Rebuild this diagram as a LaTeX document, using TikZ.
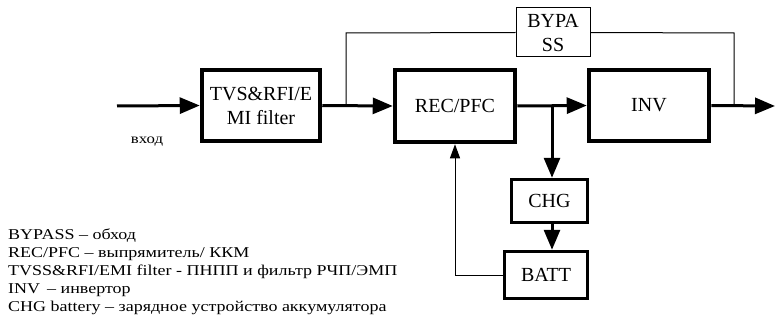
\documentclass[tikz,border=0pt]{standalone}
\usepackage{fontspec}
\setmainfont{Liberation Serif}
\newfontfamily\legfont[FakeStretch=1.2]{Liberation Serif}
\usetikzlibrary{arrows.meta}
\begin{document}
\begin{tikzpicture}[x=1pt,y=-1pt,
  bigbox/.style={draw,line width=4.5pt,rectangle,inner sep=0pt,align=center,font=\fontsize{20}{24}\selectfont},
  midbox/.style={draw,line width=3.5pt,rectangle,inner sep=0pt,align=center,font=\fontsize{20}{24}\selectfont},
  thinbox/.style={draw,line width=1pt,rectangle,inner sep=0pt,align=center,font=\fontsize{20}{24}\selectfont},
  mainline/.style={line width=3pt},
  mainarrow/.style={line width=3pt,-{Triangle[length=20pt,width=16pt]}},
  thinline/.style={line width=1pt},
  thinarrow/.style={line width=1pt,-{Triangle[length=14pt,width=10pt]}},
  legend/.style={anchor=base west,inner sep=0pt,font=\legfont\fontsize{15}{18}\selectfont}]
\useasboundingbox (0,0) rectangle (775,326);
\node[bigbox,minimum width=118pt,minimum height=71pt] (tvs) at (261,105.5) {TVS\&RFI/E\\MI filter};
\node[bigbox,minimum width=120pt,minimum height=72pt] (rec) at (455,106) {REC/PFC};
\node[bigbox,minimum width=120pt,minimum height=71pt] (inv) at (649,105.5) {INV};
\node[thinbox,minimum width=74pt,minimum height=49pt] (byp) at (553,32.5) {BYPA\\SS};
\node[midbox,minimum width=76pt,minimum height=43pt] (chg) at (549.5,201) {CHG};
\node[midbox,minimum width=83pt,minimum height=47pt] (batt) at (546,275) {BATT};
\node[inner sep=0pt,anchor=base,font=\legfont\fontsize{14}{16}\selectfont] (vhod) at (147,143) {вход};
\coordinate (in) at (117,106);
\coordinate (out) at (775,106);
\coordinate (b1) at (346,106);
\coordinate (b1t) at (346,33);
\coordinate (b2) at (734,33);
\coordinate (b2b) at (734,106);
\coordinate (c1) at (552,106);
\coordinate (fb) at (455,275);
\draw[mainarrow] (in) -- (tvs.west);
\draw[mainarrow] (tvs.east) -- (rec.west);
\draw[mainarrow] (rec.east) -- (inv.west);
\draw[mainarrow] (inv.east) -- (out);
\draw[thinline] (b1) -- (b1t) -- (byp.west);
\draw[thinline] (byp.east) -- (b2) -- (b2b);
\draw[mainarrow] (c1) -- (chg.north -| c1);
\draw[mainarrow] (chg.south -| c1) -- (batt.north -| c1);
\draw[thinarrow] (batt.west) -- (fb) -- (rec.south);
\node[legend] (l1) at (8,239) {BYPASS – обход};
\node[legend] (l2) at (8,257) {REC/PFC – выпрямитель/ ККМ};
\node[legend] (l3) at (8,275) {TVSS\&RFI/EMI filter - ПНПП и фильтр РЧП/ЭМП};
\node[legend] (l4) at (8,293) {INV\hspace{7pt}– инвертор};
\node[legend] (l5) at (8,311) {CHG battery – зарядное устройство аккумулятора};
\end{tikzpicture}
\end{document}
